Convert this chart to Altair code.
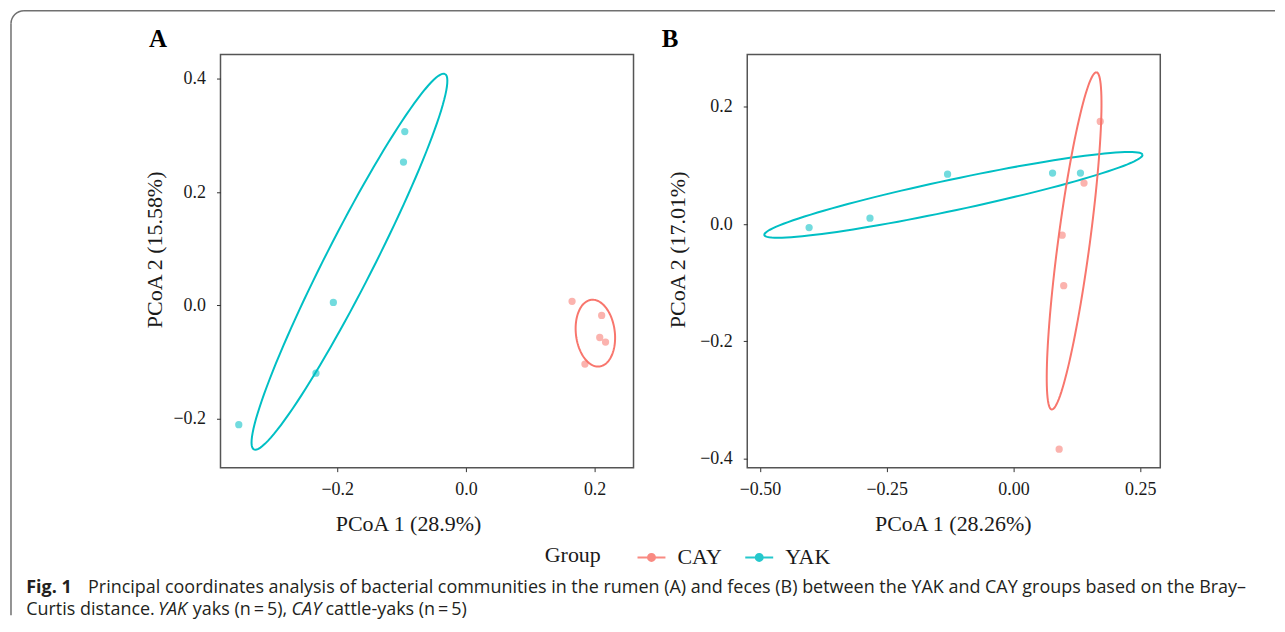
import numpy as np
import pandas as pd
import altair as alt

# ---------------- data ----------------
GROUPS = ["CAY", "YAK"]
COLORS = ["#F8766D", "#00BFC4"]

# Panel A (rumen)
A_YAK_PC1 = [-0.353, -0.233, -0.206, -0.097, -0.095]
A_YAK_PC2 = [-0.211, -0.120, 0.005, 0.253, 0.307]
A_CAY_PC1 = [0.165, 0.211, 0.208, 0.217, 0.185]
A_CAY_PC2 = [0.007, -0.018, -0.057, -0.065, -0.104]
# Panel B (feces)
B_YAK_PC1 = [-0.403, -0.283, -0.130, 0.077, 0.132]
B_YAK_PC2 = [-0.006, 0.010, 0.085, 0.087, 0.087]
B_CAY_PC1 = [0.171, 0.139, 0.096, 0.099, 0.090]
B_CAY_PC2 = [0.175, 0.070, -0.019, -0.105, -0.384]

# confidence ellipses: centre, first and second conjugate semi-axis (data units)
A_YAK_ELL = [(-0.181, 0.077), (0.1485, 0.3318), (0.0332, -0.0192)]
A_CAY_ELL = [(0.2012, -0.0493), (-0.0064, 0.0589), (0.0300, 0.0042)]
B_YAK_ELL = [(-0.1185, 0.0498), (0.3728, 0.0685), (0.0063, -0.0258)]
B_CAY_ELL = [(0.1195, -0.0287), (0.0442, 0.2876), (0.0310, -0.0036)]

A_X_DOMAIN = [-0.3814, 0.2605]
A_Y_DOMAIN = [-0.287, 0.443]
B_X_DOMAIN = [-0.525, 0.2894]
B_Y_DOMAIN = [-0.4154, 0.289]
A_X_TICKS = [-0.2, 0.0, 0.2]
A_Y_TICKS = [-0.2, 0.0, 0.2, 0.4]
B_X_TICKS = [-0.5, -0.25, 0.0, 0.25]
B_Y_TICKS = [-0.4, -0.2, 0.0, 0.2]

A_X_TITLE = "PCoA 1 (28.9%)"
A_Y_TITLE = "PCoA 2 (15.58%)"
B_X_TITLE = "PCoA 1 (28.26%)"
B_Y_TITLE = "PCoA 2 (17.01%)"

CAPTION_1 = ("Principal coordinates analysis of bacterial communities in the rumen (A) and feces (B) "
             "between the YAK and CAY groups based on the Bray\u2013")

SERIF = "Liberation Serif"
SANS = "Open Sans"
CAP_SIZE = 18
W = 414
H = 414


def points_df(yx, yy, cx, cy):
    rows = [{"Group": "YAK", "x": a, "y": b} for a, b in zip(yx, yy)]
    rows += [{"Group": "CAY", "x": a, "y": b} for a, b in zip(cx, cy)]
    return pd.DataFrame(rows)


def ellipse_df(spec, group):
    (cx, cy), (ux, uy), (vx, vy) = spec
    t = np.linspace(0, 2 * np.pi, 121)
    return pd.DataFrame({
        "Group": group,
        "i": np.arange(len(t)),
        "x": cx + ux * np.cos(t) + vx * np.sin(t),
        "y": cy + uy * np.cos(t) + vy * np.sin(t),
    })


one = pd.DataFrame({"k": [0]})

LEGEND_PATH = ("M-1,0L1,0M-0.25,0A0.25,0.25,0,1,0,0.25,0"
               "A0.25,0.25,0,1,0,-0.25,0Z")
legend = alt.Legend(
    title="Group", orient="none", legendX=325, legendY=489,
    direction="horizontal", titleOrient="left",
    symbolType=LEGEND_PATH, symbolSize=784, symbolStrokeWidth=2, symbolOpacity=0.85,
    labelOffset=11, columnPadding=19, titlePadding=35,
)
group_scale = alt.Scale(domain=GROUPS, range=COLORS)


def panel(pts, ells, xdom, ydom, xticks, yticks, xfmt, xtitle, ytitle,
          xtitle_x, ytitle_x, extra):
    xs = alt.Scale(domain=xdom, nice=False, zero=False)
    ys = alt.Scale(domain=ydom, nice=False, zero=False)
    xa = alt.Axis(values=xticks, format=xfmt, title=xtitle, labelPadding=9,
                  titleX=xtitle_x, titleY=63.3, titleBaseline="alphabetic",
                  titleAlign="center")
    ya = alt.Axis(values=yticks, format=".1f", title=ytitle, labelPadding=11,
                  titleX=ytitle_x, titleY=195.2, titleBaseline="alphabetic",
                  titleAlign="center", titleAngle=270)
    ell = alt.Chart(ells).mark_line(strokeWidth=2).encode(
        x=alt.X("x:Q", scale=xs, axis=xa),
        y=alt.Y("y:Q", scale=ys, axis=ya),
        stroke=alt.Stroke("Group:N", scale=group_scale, legend=legend),
        detail="Group:N",
        order="i:Q",
    )
    pt = alt.Chart(pts).mark_point(filled=True, size=28, strokeWidth=2, opacity=0.55).encode(
        x=alt.X("x:Q", scale=xs),
        y=alt.Y("y:Q", scale=ys),
        fill=alt.Fill("Group:N", scale=group_scale, legend=legend),
        stroke=alt.Stroke("Group:N", scale=group_scale, legend=legend),
    )
    return alt.layer(ell, pt, *extra).properties(width=W, height=H)


def txt(s, x, y, font=SANS, size=CAP_SIZE, weight="normal", style="normal",
        color="#231f20", align="left"):
    return alt.Chart(one).mark_text(
        text=s, font=font, fontSize=size, fontWeight=weight, fontStyle=style,
        color=color, align=align, baseline="alphabetic",
    ).encode(x=alt.value(x), y=alt.value(y))


FRAME = "#707070"
frame_top = alt.Chart(one).mark_rule(color=FRAME, strokeWidth=1.5).encode(
    x=alt.value(-197), x2=alt.value(1057), y=alt.value(-44), y2=alt.value(-44))
frame_left = alt.Chart(one).mark_rule(color=FRAME, strokeWidth=1.5).encode(
    x=alt.value(-210), x2=alt.value(-210), y=alt.value(-31), y2=alt.value(562))
frame_corner = alt.Chart(one).mark_arc(color=FRAME).encode(
    x=alt.value(-197), y=alt.value(-31),
    theta=alt.value(3 * np.pi / 2), theta2=alt.value(2 * np.pi),
    radius=alt.value(13.75), radius2=alt.value(12.25))

# caption (x positions relative to the left plot's origin)
L1 = 539.5
L2 = 561.5
extraA = [
    frame_top, frame_left, frame_corner,
    txt("A", -62.75, -7.75, font=SERIF, size=25, weight="bold", color="#000000", align="center"),
    txt("Fig. 1", -194.75, L1, weight="bold"),
    txt(CAPTION_1, -132.75, L1),
    txt("Curtis distance.", -194.75, L2),
    txt("YAK", -62.75, L2, style="italic"),
    txt("yaks (n\u2009=\u20095),", -27.75, L2),
    txt("CAY", 71.25, L2, style="italic"),
    txt("cattle-yaks (n\u2009=\u20095)", 105.25, L2),
]
extraB = [
    txt("B", -77.25, -7.75, font=SERIF, size=25, weight="bold", color="#000000", align="center"),
]

pA = panel(points_df(A_YAK_PC1, A_YAK_PC2, A_CAY_PC1, A_CAY_PC2),
           pd.concat([ellipse_df(A_YAK_ELL, "YAK"), ellipse_df(A_CAY_ELL, "CAY")]),
           A_X_DOMAIN, A_Y_DOMAIN, A_X_TICKS, A_Y_TICKS, ".1f",
           A_X_TITLE, A_Y_TITLE, 188, -59, extraA)
pB = panel(points_df(B_YAK_PC1, B_YAK_PC2, B_CAY_PC1, B_CAY_PC2),
           pd.concat([ellipse_df(B_YAK_ELL, "YAK"), ellipse_df(B_CAY_ELL, "CAY")]),
           B_X_DOMAIN, B_Y_DOMAIN, B_X_TICKS, B_Y_TICKS, ".2f",
           B_X_TITLE, B_Y_TITLE, 206, -63, extraB)

chart = (
    alt.hconcat(pA, pB, spacing=114, bounds="flush")
    .resolve_scale(x="independent", y="independent", fill="shared", stroke="shared")
    .properties(padding={"left": 1, "top": 0, "right": 0, "bottom": 0}, background="white")
    .configure_view(stroke="#555555", strokeWidth=1.5)
    .configure_axis(
        grid=False, domain=False, tickColor="#333333", tickSize=4, tickWidth=1,
        labelFont=SERIF, labelFontSize=18, labelColor="#1a1a1a",
        titleFont=SERIF, titleFontSize=22, titleFontWeight="normal", titleColor="#1a1a1a",
    )
    .configure_legend(
        titleFont=SERIF, titleFontSize=22, titleFontWeight="normal", titleColor="#1a1a1a",
        labelFont=SERIF, labelFontSize=22, labelColor="#1a1a1a",
    )
)

chart.save("out.html", embed_options={"renderer": "svg", "actions": False})
